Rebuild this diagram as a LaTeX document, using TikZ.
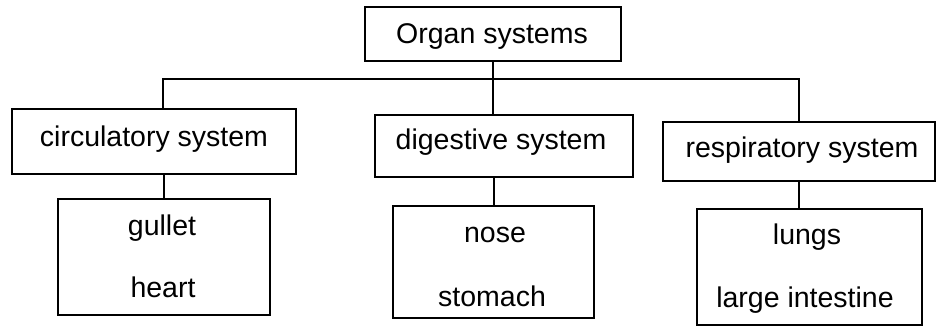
\documentclass[tikz,border=0pt]{standalone}
\usepackage{fontspec}
\setmainfont{Liberation Sans}
\begin{document}
\begin{tikzpicture}[x=1pt,y=-1pt,
  box/.style={draw=black, line width=2.4pt, inner sep=0pt},
  lbl/.style={font=\fontsize{28.5}{34}\selectfont, inner sep=0pt, text height=20.4pt, text depth=0pt, anchor=center},
  conn/.style={line width=2pt}]
\useasboundingbox[fill=white] (0,0) rectangle (936,329);
% boxes
\node[box, minimum width=256, minimum height=54] (organ) at (493,34) {};
\node[box, minimum width=284, minimum height=65] (circ) at (154,141.5) {};
\node[box, minimum width=258, minimum height=62] (dig) at (504,146) {};
\node[box, minimum width=272, minimum height=59] (resp) at (799,151.5) {};
\node[box, minimum width=212, minimum height=116] (lowA) at (164,257) {};
\node[box, minimum width=201, minimum height=112] (lowB) at (493.5,262) {};
\node[box, minimum width=225, minimum height=116] (lowC) at (809.5,267) {};
% labels
\node[lbl] (torgan) at (492,33) {Organ systems};
\node[lbl] (tcirc) at (154,136) {circulatory system};
\node[lbl] (tdig) at (501,139) {digestive system};
\node[lbl] (tresp) at (802,147) {respiratory system};
\node[lbl] (tgullet) at (162,225) {gullet};
\node[lbl] (theart) at (163,287) {heart};
\node[lbl] (tnose) at (495,232) {nose};
\node[lbl] (tstomach) at (492,296) {stomach};
\node[lbl] (tlungs) at (807,234) {lungs};
\node[lbl] (tlarge) at (805,297) {large intestine};
% connectors
\coordinate (busL) at (163,79);
\coordinate (busR) at (799,79);
\draw[conn] (organ.south) -- (organ.south |- busL);
\draw[conn] (circ.north -| busL) -- (busL) -- (busR) -- (resp.north -| busR);
\draw[conn] (organ.south |- busL) -- (dig.north -| organ.south);
\draw[conn] (circ.south -| lowA.north) -- (lowA.north);
\draw[conn] (dig.south -| lowB.north) -- (lowB.north);
\draw[conn] (resp.south -| busR) -- (lowC.north -| busR);
\end{tikzpicture}
\end{document}
